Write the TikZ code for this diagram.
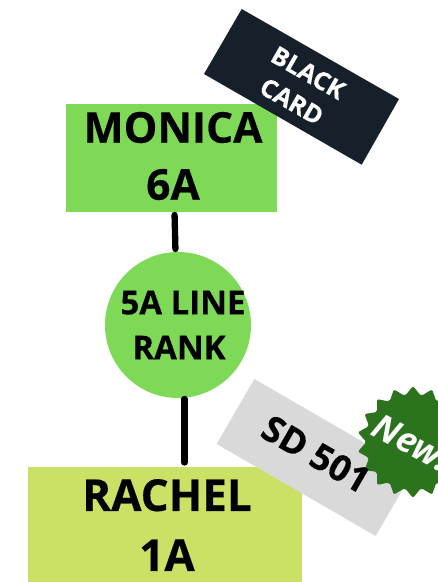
\documentclass[tikz,border=0pt]{standalone}
\usepackage{fontspec}
\setmainfont[BoldFeatures={FakeBold=0.4}]{Open Sans}
\usetikzlibrary{shapes.geometric}
\definecolor{mgreen}{HTML}{7ED957}
\definecolor{lgreen}{HTML}{C9E265}
\definecolor{cardblack}{HTML}{15202B}
\definecolor{cardgrey}{HTML}{D9D9D9}
\definecolor{stargreen}{HTML}{2B731C}
\tikzset{
  x=1pt,y=-1pt,
  boxnode/.style={inner sep=0pt,outer sep=0pt,rectangle},
  link/.style={line width=6.3pt,black,line cap=round},
  label/.style={inner sep=0pt,align=center,font=\bfseries},
}
\begin{document}
\begin{tikzpicture}
\useasboundingbox (0,0) rectangle (438,582);
\node[boxnode,fill=mgreen,minimum width=211pt,minimum height=108pt] (monica) at (171.5,158) {};
\node[circle,inner sep=0pt,outer sep=0pt,fill=mgreen,minimum size=146pt] (rank) at (178,325) {};
\node[boxnode,fill=lgreen,minimum width=274pt,minimum height=115pt] (rachel) at (165,524.5) {};
\draw[link,shorten <=3pt,shorten >=3pt] ([xshift=3pt]monica.south) -- ([xshift=-2.5pt]rank.north);
\draw[link,shorten <=4.5pt,shorten >=1pt] (rachel.north -| 184.5,0) -- ([xshift=6.5pt]rank.south);
\node[label,font=\bfseries\fontsize{42.5}{57}\selectfont] (t1) at (173,156) {MONICA\\6A};
\node[label,font=\bfseries\fontsize{33}{45}\selectfont] (t2) at (183,325) {5A LINE\\RANK\kern8pt};
\node[label,font=\bfseries\fontsize{44}{60}\selectfont] (t3) at (167,525) {RACHEL\\1A};
\fill[cardblack] (241.7,9) -- (399,99) -- (361.7,164.7) -- (204,74) -- cycle;
\node[label,text=white,rotate=-29.8,font=\bfseries\fontsize{25}{33}\selectfont] (t4) at (300,87) {BLACK\\CARD};
\fill[cardgrey] (254.3,379) -- (413.3,471) -- (375.7,536) -- (216.7,444) -- cycle;
\node[star,star points=18,star point ratio=1.2,fill=stargreen,inner sep=0pt,minimum size=112pt,rounded corners=2pt] (burst) at (413,442) {};
\node[label,rotate=-30,font=\bfseries\fontsize{36}{40}\selectfont] (t5) at (316,454) {SD 501};
\node[label,text=white,rotate=-28,font=\bfseries\itshape\fontsize{35}{40}\selectfont] (t6) at (412,443) {New!};
\end{tikzpicture}
\end{document}
